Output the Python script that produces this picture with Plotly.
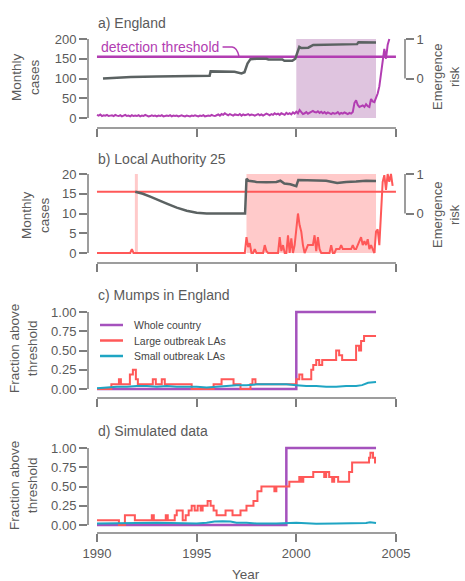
import plotly.graph_objects as go

W, H = 465, 581
FONT = "Liberation Sans, Arial, Helvetica, sans-serif"
TXT = "#5a5a5a"
AXC = "#7d7d7d"
GRAY = "#5b6262"
PURPLE_A = "#b23db2"
PURPLE = "#a552bd"
RED = "#ff5858"
CYAN = "#1fa5c3"
SHADE_A = "#dfc4df"
SHADE_B = "#ffcaca"

# ---------------- data ----------------
year_ticks = [1990, 1995, 2000, 2005]

# a) England: monthly cases from Jan 1990
eng_cases = [
    8, 6, 9, 5, 7, 6, 8, 5, 6, 7, 5, 8,
    6, 5, 7, 4, 6, 8, 5, 6, 4, 7, 5, 6,
    5, 7, 4, 6, 5, 8, 6, 4, 5, 7, 5, 6,
    4, 6, 5, 7, 4, 5, 6, 5, 7, 4, 6, 5,
    6, 4, 5, 7, 5, 4, 6, 5, 4, 6, 5, 7,
    5, 4, 6, 5, 7, 4, 5, 6, 5, 8, 6, 5,
    7, 9, 6, 10, 8, 12, 9, 7, 10, 8, 6, 9,
    8, 7, 10, 6, 9, 7, 8, 10, 7, 9, 8, 6,
    8, 10, 7, 9, 6, 8, 11, 9, 7, 10, 8, 12,
    9, 11, 8, 12, 10, 8, 13, 10, 12, 9, 14, 11,
    16, 12, 20, 14, 10, 12, 15, 11, 13, 16, 18, 15,
    14, 17, 13, 16, 12, 15, 11, 14, 12, 10, 13, 11,
    12, 15, 10, 13, 11, 14, 12, 10, 13, 11, 15, 38,
    45, 33, 28, 30, 32, 28, 35, 30, 28, 48, 42, 40,
    50, 62, 80, 110, 140, 175, 150, 185, 200,
]
eng_threshold = 155
eng_risk_t = [1990.3, 1991.0, 1991.7, 1993.0, 1994.5, 1995.65, 1995.7, 1996.5, 1996.9,
              1997.25, 1997.4, 1997.55, 1997.7, 1998.0, 1998.5, 1998.6, 1999.0, 1999.3,
              1999.4, 1999.8, 1999.95, 2000.05, 2000.15, 2000.25, 2000.6, 2000.85,
              2001.5, 2002.5, 2003.05, 2003.12, 2003.5, 2004.0]
eng_risk = [0.00, 0.02, 0.04, 0.05, 0.06, 0.07, 0.18, 0.18, 0.17,
            0.13, 0.16, 0.38, 0.49, 0.50, 0.50, 0.48, 0.48, 0.48,
            0.45, 0.45, 0.50, 0.64, 0.80, 0.77, 0.78, 0.85,
            0.86, 0.86, 0.87, 0.92, 0.92, 0.91]
eng_emergence = [(2000.0, 2004.0)]

# b) Local Authority 25: monthly cases from Jan 1990
la_cases = (
    [0] * 21 + [1] + [0] * 62
    + [0, 0, 0, 0, 0, 0, 4, 1.5, 2.5, 0, 0, 1]
    + [0, 0, 0, 0, 0, 2, 0.5, 0, 0, 0, 0, 0]
    + [0, 0, 4, 0.5, 2, 0, 0, 4.5, 0, 3.7, 0, 2]
    + [6, 10, 7, 5.4, 2, 0, 1, 2, 2, 2, 2, 4.5]
    + [0.5, 4, 1, 0, 0, 0, 0, 0, 0, 2, 0, 0]
    + [1, 1, 1, 2, 1, 1, 1, 1, 1, 1, 2, 1]
    + [1, 2, 3, 4, 2, 3, 2, 3.5, 1, 2, 1, 0]
    + [5.4, 6, 2, 11, 18, 19.7, 16, 20, 18, 20, 17]
)
la_threshold = 15.5
la_risk_t = [1991.92, 1992.3, 1992.7, 1993.1, 1993.5, 1994.0, 1994.5, 1995.0, 1995.5,
             1997.43, 1997.5, 1997.6, 1998.0, 1998.5, 1999.0, 1999.2, 1999.4, 1999.7,
             2000.0, 2000.1, 2000.5, 2001.0, 2001.5, 2002.05, 2002.5, 2003.0, 2003.5, 2004.0]
la_risk = [0.55, 0.50, 0.42, 0.33, 0.25, 0.15, 0.07, 0.02, 0.00,
           0.00, 0.88, 0.83, 0.80, 0.79, 0.80, 0.83, 0.76, 0.74,
           0.69, 0.85, 0.84, 0.83, 0.83, 0.77, 0.80, 0.81, 0.83, 0.82]
la_emergence = [(1991.9, 1992.05), (1997.5, 2004.0)]

# c) Mumps in England
c_whole_t = [1990.0, 2000.0, 2004.0]
c_whole = [0, 1, 1]
c_large_t = [1990.0, 1990.72, 1991.1, 1991.2, 1991.65, 1991.8, 1991.95, 1992.05, 1992.8, 1992.95,
             1993.25, 1993.4, 1994.75, 1995.85, 1996.25, 1996.85, 1997.2, 1997.7, 1997.8, 1997.95,
             2000.0, 2000.15, 2000.3, 2000.75, 2000.85, 2001.0, 2001.15, 2001.3, 2002.0, 2002.15,
             2002.3, 2003.0, 2003.15, 2003.25, 2003.4, 2004.0]
c_large = [0, 0.0625, 0.125, 0.0625, 0.1875, 0.25, 0.125, 0.0625, 0.125, 0.0625,
           0.125, 0.0625, 0.0, 0.0625, 0.125, 0.0625, 0.0, 0.0625, 0.125, 0.0625,
           0.125, 0.1875, 0.125, 0.25, 0.3125, 0.375, 0.3125, 0.375, 0.5, 0.4375,
           0.375, 0.5625, 0.5, 0.625, 0.6875, 0.6875]
c_small_t = [1990.0, 1990.5, 1991.0, 1991.5, 1992.0, 1992.5, 1993.0, 1993.5, 1994.0, 1994.5,
             1995.0, 1995.5, 1996.0, 1996.5, 1997.0, 1997.5, 1998.0, 1998.5, 1999.0, 1999.5,
             2000.0, 2000.5, 2001.0, 2001.5, 2002.0, 2002.5, 2003.0, 2003.3, 2003.6, 2004.0]
c_small = [0.01, 0.02, 0.03, 0.03, 0.04, 0.04, 0.03, 0.04, 0.03, 0.03,
           0.03, 0.02, 0.03, 0.04, 0.05, 0.05, 0.06, 0.06, 0.06, 0.06,
           0.05, 0.04, 0.04, 0.03, 0.03, 0.04, 0.04, 0.05, 0.08, 0.09]

# d) Simulated data
d_whole_t = [1990.0, 1999.5, 2004.0]
d_whole = [0, 1, 1]
d_large_t = [1990.0, 1991.1, 1991.4, 1991.9, 1992.75, 1992.85, 1993.45, 1993.55, 1993.9, 1994.0,
             1994.3, 1994.45, 1994.6, 1994.75, 1994.9, 1995.05, 1995.2, 1995.3, 1995.55, 1995.7,
             1995.85, 1996.0, 1996.45, 1996.8, 1997.2, 1997.5, 1997.85, 1998.05, 1998.25, 1998.9,
             1999.0, 1999.65, 2000.15, 2000.25, 2000.35, 2000.85, 2001.4, 2001.5, 2001.65, 2001.8,
             2001.9, 2002.1, 2002.65, 2002.8, 2003.65, 2003.72, 2003.85, 2003.95, 2004.0]
d_large = [0.0625, 0, 0.125, 0.0625, 0.125, 0.0625, 0.125, 0.0625, 0.125, 0.1875,
           0.0625, 0.125, 0.1875, 0.25, 0.1875, 0.25, 0.1875, 0.25, 0.3125, 0.25,
           0.1875, 0.125, 0.1875, 0.125, 0.1875, 0.25, 0.3125, 0.4375, 0.5, 0.4375,
           0.5, 0.5625, 0.625, 0.5625, 0.625, 0.6875, 0.625, 0.6875, 0.625, 0.5625,
           0.625, 0.5625, 0.6875, 0.8125, 0.875, 0.9375, 0.875, 0.8125, 0.8125]
d_small_t = [1990.0, 1991.0, 1992.0, 1993.0, 1994.0, 1995.0, 1995.5, 1995.9, 1996.3, 1996.7,
             1997.0, 1997.5, 1998.0, 1999.0, 2000.0, 2000.5, 2001.0, 2002.0, 2003.0, 2003.5,
             2003.7, 2003.85, 2004.0]
d_small = [0.02, 0.02, 0.025, 0.03, 0.025, 0.02, 0.03, 0.045, 0.05, 0.045,
           0.03, 0.03, 0.02, 0.02, 0.03, 0.025, 0.015, 0.02, 0.02, 0.025,
           0.035, 0.03, 0.025]

legend_names = ["Whole country", "Large outbreak LAs", "Small outbreak LAs"]
legend_colors = [PURPLE, RED, CYAN]

# ---------------- layout geometry (pixels) ----------------
XL, XR = 88, 405
XRANGE = [1989.548, 2005.454]
panels = {
    "a": dict(top=35, bot=128, yr=[-25.3, 210.1], y2r=[-1.253, 1.101], yt=[0, 50, 100, 150, 200], ymax=200),
    "b": dict(top=170, bot=263, yr=[-2.53, 21.01], y2r=[-1.253, 1.101], yt=[0, 5, 10, 15, 20], ymax=20),
    "c": dict(top=305, bot=398, yr=[-0.117, 1.091], yt=[0, 0.25, 0.5, 0.75, 1.0], ymax=1.0),
    "d": dict(top=441, bot=533, yr=[-0.104, 1.091], yt=[0, 0.25, 0.5, 0.75, 1.0], ymax=1.0),
}


def pxx(p):
    return p / W


def pxy(p):
    return 1 - p / H


def x_to_px(v):
    return XL + (v - XRANGE[0]) / (XRANGE[1] - XRANGE[0]) * (XR - XL)


def y_to_px(v, rng, top, bot):
    return bot - (v - rng[0]) / (rng[1] - rng[0]) * (bot - top)


def months(n):
    return [1990 + i / 12 for i in range(n)]


fig = go.Figure()

# ---- panel a ----
fig.add_trace(go.Scatter(x=[XRANGE[0] + 0.45, 2005.0], y=[eng_threshold, eng_threshold], mode="lines",
                         line=dict(color=PURPLE_A, width=2.5), xaxis="x", yaxis="y", showlegend=False))
fig.add_trace(go.Scatter(x=eng_risk_t, y=eng_risk, mode="lines", line=dict(color=GRAY, width=2.5),
                         xaxis="x", yaxis="y2", showlegend=False))
fig.add_trace(go.Scatter(x=months(len(eng_cases)), y=eng_cases, mode="lines",
                         line=dict(color=PURPLE_A, width=2), xaxis="x", yaxis="y", showlegend=False))

# ---- panel b ----
fig.add_trace(go.Scatter(x=[XRANGE[0] + 0.45, 2005.0], y=[la_threshold, la_threshold], mode="lines",
                         line=dict(color=RED, width=2), xaxis="x2", yaxis="y3", showlegend=False))
fig.add_trace(go.Scatter(x=la_risk_t, y=la_risk, mode="lines", line=dict(color=GRAY, width=2.5),
                         xaxis="x2", yaxis="y4", showlegend=False))
fig.add_trace(go.Scatter(x=months(len(la_cases)), y=la_cases, mode="lines",
                         line=dict(color=RED, width=2), xaxis="x2", yaxis="y3", showlegend=False))

# ---- panel c ----
fig.add_trace(go.Scatter(x=c_whole_t, y=c_whole, mode="lines", line=dict(color=PURPLE, width=2.5, shape="hv"),
                         xaxis="x3", yaxis="y5", name=legend_names[0], showlegend=False))
fig.add_trace(go.Scatter(x=c_large_t, y=c_large, mode="lines", line=dict(color=RED, width=2, shape="hv"),
                         xaxis="x3", yaxis="y5", name=legend_names[1], showlegend=False))
fig.add_trace(go.Scatter(x=c_small_t, y=c_small, mode="lines", line=dict(color=CYAN, width=2),
                         xaxis="x3", yaxis="y5", name=legend_names[2], showlegend=False))

# ---- panel d ----
fig.add_trace(go.Scatter(x=d_whole_t, y=d_whole, mode="lines", line=dict(color=PURPLE, width=2.5, shape="hv"),
                         xaxis="x4", yaxis="y6", showlegend=False))
fig.add_trace(go.Scatter(x=d_large_t, y=d_large, mode="lines", line=dict(color=RED, width=2, shape="hv"),
                         xaxis="x4", yaxis="y6", showlegend=False))
fig.add_trace(go.Scatter(x=d_small_t, y=d_small, mode="lines", line=dict(color=CYAN, width=2),
                         xaxis="x4", yaxis="y6", showlegend=False))

tickfont = dict(family=FONT, size=13, color=TXT)
xdom = [pxx(XL), pxx(XR)]

layout = dict(
    width=W, height=H, margin=dict(l=0, r=0, t=0, b=0),
    paper_bgcolor="white", plot_bgcolor="white",
    font=dict(family=FONT, color=TXT), showlegend=False,
)

xaxes = {"a": "xaxis", "b": "xaxis2", "c": "xaxis3", "d": "xaxis4"}
yaxes = {"a": "yaxis", "b": "yaxis3", "c": "yaxis5", "d": "yaxis6"}
yanch = {"a": "y", "b": "y3", "c": "y5", "d": "y6"}
xanch = {"a": "x", "b": "x2", "c": "x3", "d": "x4"}

shapes = []
for k, p in panels.items():
    ydom = [pxy(p["bot"]), pxy(p["top"])]
    layout[xaxes[k]] = dict(domain=xdom, range=XRANGE, anchor=yanch[k], showgrid=False, zeroline=False,
                            showline=False, ticks="outside", ticklen=8, tickwidth=1.5, tickcolor=AXC,
                            tickvals=year_ticks, showticklabels=(k == "d"), tickfont=tickfont,
                            automargin=False)
    fmt = {"a": "d", "b": "d", "c": ".2f", "d": ".2f"}[k]
    layout[yaxes[k]] = dict(domain=ydom, range=p["yr"], anchor=xanch[k], showgrid=False, zeroline=False,
                            showline=False, ticks="outside", ticklen=8, tickwidth=1.5, tickcolor=AXC,
                            tickvals=p["yt"], tickformat=fmt, tickfont=tickfont, automargin=False)
    # axis lines limited to tick span (R style)
    y0 = y_to_px(0, p["yr"], p["top"], p["bot"])
    y1 = y_to_px(p["ymax"], p["yr"], p["top"], p["bot"])
    shapes.append(dict(type="line", xref="paper", yref="paper", x0=pxx(XL), x1=pxx(XL),
                       y0=pxy(y0), y1=pxy(y1), line=dict(color=AXC, width=1.5)))
    shapes.append(dict(type="line", xref="paper", yref="paper", x0=pxx(x_to_px(1990)), x1=pxx(x_to_px(2005)),
                       y0=pxy(p["bot"]), y1=pxy(p["bot"]), line=dict(color=AXC, width=1.5)))
    if "y2r" in p:
        r0 = y_to_px(0, p["y2r"], p["top"], p["bot"])
        r1 = y_to_px(1, p["y2r"], p["top"], p["bot"])
        shapes.append(dict(type="line", xref="paper", yref="paper", x0=pxx(XR), x1=pxx(XR),
                           y0=pxy(r0), y1=pxy(r1), line=dict(color=AXC, width=1.5)))

for name, ov, anc, k in (("yaxis2", "y", "x", "a"), ("yaxis4", "y3", "x2", "b")):
    layout[name] = dict(domain=[pxy(panels[k]["bot"]), pxy(panels[k]["top"])], overlaying=ov, side="right",
                        anchor=anc, range=panels[k]["y2r"], showgrid=False, zeroline=False, showline=False,
                        ticks="outside", ticklen=8, tickwidth=1.5, tickcolor=AXC, tickvals=[0, 1],
                        tickfont=tickfont, automargin=False)

# emergence shading
for (a0, a1) in eng_emergence:
    shapes.append(dict(type="rect", xref="x", yref="y", x0=a0, x1=a1, y0=0, y1=200,
                       fillcolor=SHADE_A, line=dict(width=0), layer="below"))
for (a0, a1) in la_emergence:
    shapes.append(dict(type="rect", xref="x2", yref="y3", x0=a0, x1=a1, y0=0, y1=20,
                       fillcolor=SHADE_B, line=dict(width=0), layer="below"))

# detection threshold connector
shapes.append(dict(type="path", xref="x", yref="y",
                   path="M 1996.3,180 L 1996.78,180 Q 1997.02,179 1997.12,157",
                   line=dict(color=PURPLE_A, width=1.5)))

ann = []
# manual legend for panel c
legend_rows = [325, 340.5, 356]
for name, col, yr in zip(legend_names, legend_colors, legend_rows):
    shapes.append(dict(type="line", xref="paper", yref="paper", x0=pxx(100), x1=pxx(123),
                       y0=pxy(yr), y1=pxy(yr), line=dict(color=col, width=2.5)))
    ann.append(dict(text=name, x=pxx(132), y=pxy(yr), xref="paper", yref="paper", xanchor="left",
                    yanchor="middle", showarrow=False, font=dict(family=FONT, size=10.5, color="#444444")))

layout["shapes"] = shapes

titles = [("a) England", 23), ("b) Local Authority 25", 159), ("c) Mumps in England", 295), ("d) Simulated data", 431)]
for t, yc in titles:
    ann.append(dict(text=t, x=pxx(96), y=pxy(yc), xref="paper", yref="paper", xanchor="left", yanchor="middle",
                    showarrow=False, font=dict(family=FONT, size=14, color=TXT)))
ann.append(dict(text="detection threshold", x=pxx(99), y=pxy(47), xref="paper", yref="paper", xanchor="left",
                yanchor="middle", showarrow=False, font=dict(family=FONT, size=14, color=PURPLE_A)))

left_titles = [("Monthly<br>cases", 26, 77), ("Monthly<br>cases", 35, 215),
               ("Fraction above<br>threshold", 23, 349), ("Fraction above<br>threshold", 23, 486)]
for t, xc, yc in left_titles:
    ann.append(dict(text=t, x=pxx(xc), y=pxy(yc), xref="paper", yref="paper", xanchor="center", yanchor="middle",
                    textangle=-90, showarrow=False, font=dict(family=FONT, size=13.5, color=TXT)))
for yc in (77, 215):
    ann.append(dict(text="Emergence<br>risk", x=pxx(446), y=pxy(yc), xref="paper", yref="paper", xanchor="center",
                    yanchor="middle", textangle=-90, showarrow=False, font=dict(family=FONT, size=13, color=TXT)))
ann.append(dict(text="Year", x=pxx(246), y=pxy(574), xref="paper", yref="paper", xanchor="center",
                yanchor="middle", showarrow=False, font=dict(family=FONT, size=13.5, color=TXT)))
layout["annotations"] = ann

fig.update_layout(**layout)
fig.write_html("out.html", config={"displayModeBar": False},
               post_script="document.body.style.margin='0';document.body.style.padding='0';")
